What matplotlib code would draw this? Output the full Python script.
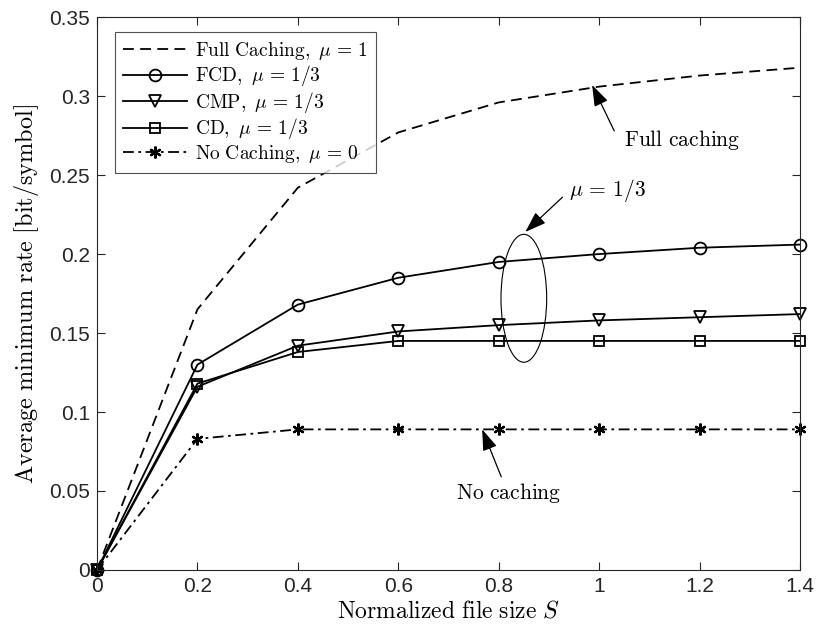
import numpy as np
import matplotlib
matplotlib.use('Agg')
import matplotlib.pyplot as plt
from matplotlib.patches import Ellipse

# data
S = [0, 0.2, 0.4, 0.6, 0.8, 1.0, 1.2, 1.4]
full_caching = [0, 0.165, 0.242, 0.277, 0.296, 0.306, 0.313, 0.318]
fcd = [0, 0.130, 0.168, 0.185, 0.195, 0.200, 0.204, 0.206]
cmp_ = [0, 0.116, 0.142, 0.151, 0.155, 0.158, 0.160, 0.162]
cd = [0, 0.118, 0.138, 0.145, 0.145, 0.145, 0.145, 0.145]
no_caching = [0, 0.083, 0.089, 0.089, 0.089, 0.089, 0.089, 0.089]

labels = [r'$\mathrm{Full\ Caching,}\ \mu\,=\,1$',
          r'$\mathrm{FCD,}\ \mu\,=\,1/3$',
          r'$\mathrm{CMP,}\ \mu\,=\,1/3$',
          r'$\mathrm{CD,}\ \mu\,=\,1/3$',
          r'$\mathrm{No\ Caching,}\ \mu\,=\,0$']

plt.rcParams['mathtext.fontset'] = 'cm'
plt.rcParams['font.family'] = ['Liberation Sans', 'DejaVu Sans']

fig = plt.figure(figsize=(8.18, 6.34), dpi=100)
ax = fig.add_axes([0.1186, 0.101, 0.8594, 0.872])

lw = 1.3
ms = 8.5
ax.plot(S, full_caching, color='k', lw=lw, linestyle=(0, (6, 3.5)), label=labels[0], clip_on=False)
ax.plot(S, fcd, color='k', lw=lw, marker='o', ms=ms, mfc='none', mew=1.3, label=labels[1], clip_on=False)
ax.plot(S, cmp_, color='k', lw=lw, marker='v', ms=9, mfc='none', mew=1.3, label=labels[2], clip_on=False)
ax.plot(S, cd, color='k', lw=lw, marker='s', ms=7, mfc='none', mew=1.3, label=labels[3], clip_on=False)
ax.plot(S, no_caching, color='k', lw=lw, linestyle=(0, (6, 2.5, 1.5, 2.5)), marker=(6, 2, 0),
        ms=ms, mew=1.6, label=labels[4], clip_on=False)

ax.set_xlim(0, 1.4)
ax.set_ylim(0, 0.35)
ax.set_xticks(np.arange(0, 1.41, 0.2))
ax.set_xticklabels(['0', '0.2', '0.4', '0.6', '0.8', '1', '1.2', '1.4'])
ax.set_yticks(np.arange(0, 0.351, 0.05))
ax.set_yticklabels(['0', '0.05', '0.1', '0.15', '0.2', '0.25', '0.3', '0.35'])
ax.tick_params(direction='in', top=True, right=True, labelsize=15, length=6, width=0.8,
               colors='#262626', pad=5)
for sp in ax.spines.values():
    sp.set_color('#262626')
    sp.set_linewidth(0.8)

ax.set_xlabel(r'$\mathrm{Normalized\ file\ size}\ S$', fontsize=17, labelpad=3)
ax.set_ylabel(r'$\mathrm{Average\ minimum\ rate\ [bit/symbol]}$', fontsize=17.5, labelpad=6)

leg = ax.legend(loc='upper left', bbox_to_anchor=(0.026, 0.973), fontsize=14, frameon=True,
                fancybox=False, edgecolor='#262626', handlelength=3.3, borderaxespad=0,
                labelspacing=0.08, handletextpad=0.4, borderpad=0.4)
leg.get_frame().set_linewidth(0.8)

arrow = dict(arrowstyle='-|>,head_length=1.3,head_width=0.45', color='k', lw=0.9, shrinkA=0, shrinkB=0)
ax.annotate('', xy=(0.986, 0.307), xytext=(1.03, 0.278), arrowprops=arrow)
ax.text(1.05, 0.272, r'$\mathrm{Full\ caching}$', fontsize=15.5, va='center', ha='left')

ax.annotate('', xy=(0.853, 0.214), xytext=(0.927, 0.236), arrowprops=arrow)
ax.text(0.94, 0.240, r'$\mu\,=\,1/3$', fontsize=15.5, va='center', ha='left')
ax.add_patch(Ellipse((0.850, 0.172), 0.091, 0.081, fill=False, color='k', lw=0.8))

ax.annotate('', xy=(0.767, 0.089), xytext=(0.805, 0.059), arrowprops=arrow)
ax.text(0.82, 0.049, r'$\mathrm{No\ caching}$', fontsize=15.5, va='center', ha='center')

fig.savefig('out.png', dpi=100)
